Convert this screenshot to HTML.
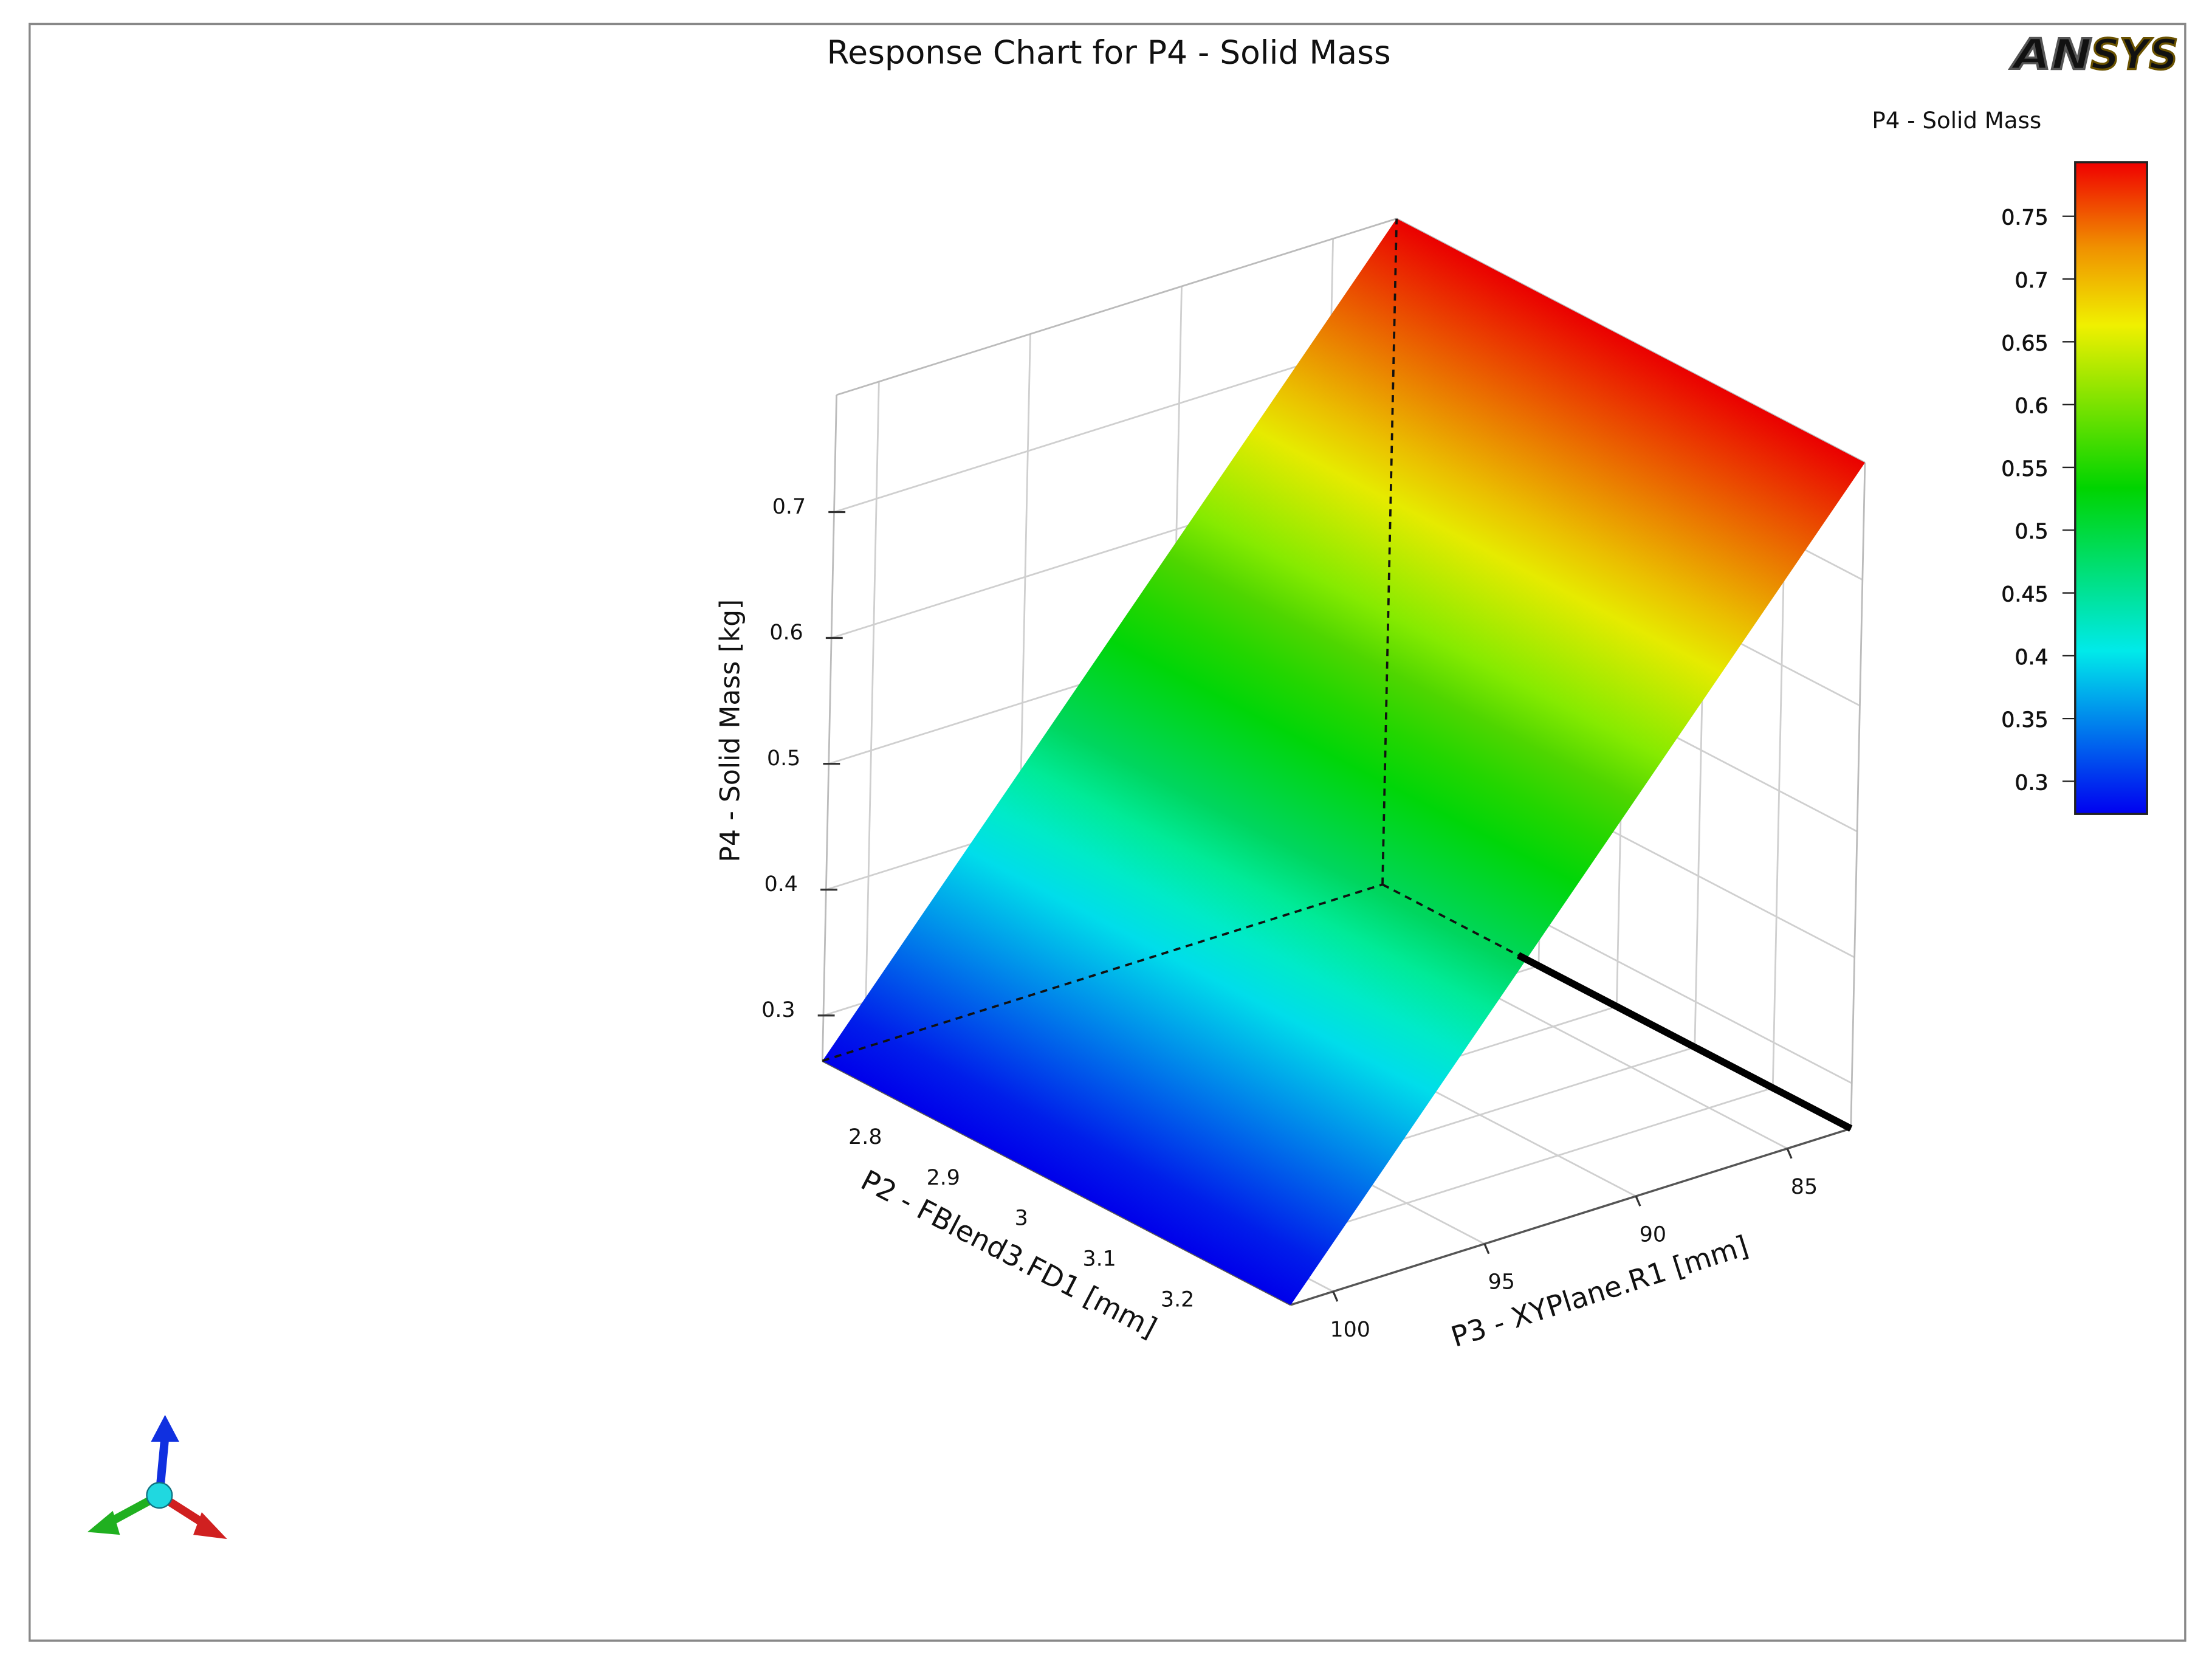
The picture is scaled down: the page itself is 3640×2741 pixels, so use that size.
<!DOCTYPE html>
<html><head><meta charset="utf-8">
<style>
html,body{margin:0;padding:0;background:#fff;}
svg{display:block;}
text{font-family:"DejaVu Sans","Liberation Sans",sans-serif;fill:#111;}
</style></head>
<body>
<svg id="chart" width="3640" height="2741" viewBox="0 0 1568 1181" preserveAspectRatio="none" xmlns="http://www.w3.org/2000/svg">
<rect x="0" y="0" width="1568" height="1181" fill="#fff"/>
<rect x="21" y="17" width="1528" height="1146" fill="none" stroke="#888" stroke-width="1.5"/>
<text x="786" y="45" font-size="23" text-anchor="middle">Response Chart for P4 - Solid Mass</text>
<g font-style="italic" font-weight="bold" font-size="30" font-family="Liberation Sans,sans-serif">
<text x="1427" y="49" fill="#fff" stroke="#555" stroke-width="1.5" font-family="Liberation Sans,sans-serif" textLength="56" lengthAdjust="spacingAndGlyphs">AN</text>
<text x="1482" y="49" fill="#f2c300" stroke="#6a5200" stroke-width="1.5" font-family="Liberation Sans,sans-serif" textLength="62" lengthAdjust="spacingAndGlyphs">SYS</text>
</g>
<text x="1387" y="91" font-size="16" text-anchor="middle">P4 - Solid Mass</text>
<defs>
<linearGradient id="cbgrad" x1="0" y1="1" x2="0" y2="0">
<stop offset="0" stop-color="#0000f0"/><stop offset="0.25" stop-color="#00eaea"/><stop offset="0.5" stop-color="#00d400"/><stop offset="0.75" stop-color="#f0f000"/><stop offset="0.87" stop-color="#f09000"/><stop offset="1" stop-color="#f00000"/>
</linearGradient>
</defs>
<rect x="1471" y="115" width="51" height="462" fill="url(#cbgrad)" stroke="#222" stroke-width="1.5"/>
<g id="cbticks"></g>
<g id="grid"></g>
<g id="surface"></g>
<g id="overlay"></g>
<g id="labels"></g>
<g>
<line x1="113" y1="1060" x2="117" y2="1018" stroke="#1030e0" stroke-width="6"/>
<polygon points="107,1022 127,1022 117,1003" fill="#1030e0"/>
<line x1="113" y1="1060" x2="76" y2="1080" stroke="#20b020" stroke-width="6"/>
<polygon points="80,1071 85,1088 62,1086" fill="#20b020"/>
<line x1="113" y1="1060" x2="146" y2="1081" stroke="#d02020" stroke-width="6"/>
<polygon points="143,1072 137,1088 161,1091" fill="#d02020"/>
<circle cx="113" cy="1060" r="9" fill="#20d8e0" stroke="#107080" stroke-width="1"/>
</g>
</svg>
<script>
// ---- data ----
const p2Range = [2.7, 3.3];
const p3Range = [101.4, 82.9];
const zRange = [0.264, 0.793];
const p2Ticks = [2.8, 2.9, 3, 3.1, 3.2];
const p3Ticks = [100, 95, 90, 85];
const zTicks = [0.3, 0.4, 0.5, 0.6, 0.7];
const cbTicks = [0.3, 0.35, 0.4, 0.45, 0.5, 0.55, 0.6, 0.65, 0.7, 0.75];
const cbRange = [0.274, 0.793];
const surfP3 = [101.4, 82.9];
const surfMass = [0.264, 0.793];

const NS = "http://www.w3.org/2000/svg";
function mk(tag, parent, attrs) {
  const e = document.createElementNS(NS, tag);
  for (const k in attrs) e.setAttribute(k, attrs[k]);
  parent.appendChild(e);
  return e;
}
const O = [583, 752], U = [332, 173], V = [397, -125], W = [10, -472];
function proj(p, q, z) { return [O[0] + p*U[0] + q*V[0] + z*W[0], O[1] + p*U[1] + q*V[1] + z*W[1]]; }
const pOf = v => (v - p2Range[0]) / (p2Range[1] - p2Range[0]);
const qOf = v => (v - p3Range[0]) / (p3Range[1] - p3Range[0]);
const zOf = v => (v - zRange[0]) / (zRange[1] - zRange[0]);
function colorOf(v) {
  let t = (v - cbRange[0]) / (cbRange[1] - cbRange[0]);
  t = Math.max(0, Math.min(1, t));
  const h = 240 * (1 - t);
  const l = (h > 90 && h < 150) ? 42 : 46;
  return "hsl(" + h + ",100%," + l + "%)";
}

const cbG = document.getElementById("cbticks");
const cbY = v => 577 - (v - cbRange[0]) / (cbRange[1] - cbRange[0]) * 462;
cbTicks.forEach(v => {
  const y = cbY(v);
  const t = mk("text", cbG, {x: 1452, y: y + 6, "font-size": 15, "text-anchor": "end", "stroke": "#111", "stroke-width": 0.3});
  
  
  t.textContent = String(v);
  const l = mk("line", cbG, {x1: 1462, y1: y, x2: 1471, y2: y, stroke: "#222", "stroke-width": 1});
  
  
});

const gG = document.getElementById("grid");
function gl(a, b, name, stroke, w) {
  const l = mk("line", gG, {x1: a[0], y1: a[1], x2: b[0], y2: b[1], stroke: stroke || "#cfcfcf", "stroke-width": w || 1.2});
  
  
}
p3Ticks.forEach(v => gl(proj(0, qOf(v), 0), proj(0, qOf(v), 1), 'left-wall-gridline'));
zTicks.forEach(v => gl(proj(0, 0, zOf(v)), proj(0, 1, zOf(v)), 'left-wall-gridline'));
p2Ticks.forEach(v => gl(proj(pOf(v), 1, 0), proj(pOf(v), 1, 1), 'right-wall-gridline'));
zTicks.forEach(v => gl(proj(0, 1, zOf(v)), proj(1, 1, zOf(v)), 'right-wall-gridline'));
p2Ticks.forEach(v => gl(proj(pOf(v), 0, 0), proj(pOf(v), 1, 0), 'floor-gridline'));
p3Ticks.forEach(v => gl(proj(0, qOf(v), 0), proj(1, qOf(v), 0), 'floor-gridline'));
gl(proj(0,0,0), proj(0,0,1), 'box-edge', '#bbb');
gl(proj(0,0,1), proj(0,1,1), 'box-edge', '#bbb');
gl(proj(0,1,1), proj(1,1,1), 'box-edge', '#bbb');
gl(proj(1,1,0), proj(1,1,1), 'box-edge', '#bbb');
gl(proj(0,0,0), proj(1,0,0), 'p2-axis-line', '#555', 1.5);
gl(proj(1,0,0), proj(1,1,0), 'p3-axis-line', '#555', 1.5);

const sG = document.getElementById("surface");
const defs = document.querySelector("defs");
const q0 = qOf(surfP3[0]), q1 = qOf(surfP3[1]);
const z0 = zOf(surfMass[0]), z1 = zOf(surfMass[1]);
const c = [proj(0, q0, z0), proj(1, q0, z0), proj(1, q1, z1), proj(0, q1, z1)];
const ux = U[0], uy = U[1], un = Math.hypot(ux, uy);
let nx = uy / un, ny = -ux / un;
const d = (c[3][0] - c[0][0]) * nx + (c[3][1] - c[0][1]) * ny;
const grad = mk("linearGradient", defs, {id: "surfgrad", gradientUnits: "userSpaceOnUse",
  x1: c[0][0], y1: c[0][1], x2: c[0][0] + nx * d, y2: c[0][1] + ny * d});
for (let i = 0; i <= 20; i++) {
  const t = i / 20;
  const v = surfMass[0] + t * (surfMass[1] - surfMass[0]);
  mk("stop", grad, {offset: t, "stop-color": colorOf(v)});
}
const poly = mk("polygon", sG, {points: c.map(p => p.join(",")).join(" "), fill: "url(#surfgrad)"});



const oG = document.getElementById("overlay");
function ol(a, b, name, attrs) {
  const l = mk("line", oG, Object.assign({x1: a[0], y1: a[1], x2: b[0], y2: b[1]}, attrs));
  
  
}
const dash = {stroke: "#111", "stroke-width": 1.6, "stroke-dasharray": "5,4"};
ol(proj(0,0,0), proj(0,1,0), 'dashed-edge', dash);
ol(proj(0,1,0), proj(0,1,1), 'dashed-edge', dash);
ol(proj(0,1,0), proj(0.29,1,0), 'dashed-edge', dash);
ol(proj(0.29,1,0), proj(1,1,0), 'response-curve-projection', {stroke: "#000", "stroke-width": 5});

const lG = document.getElementById("labels");
function txt(x, y, s, name, attrs) {
  const t = mk("text", lG, Object.assign({x: x, y: y}, attrs));
  
  
  t.textContent = s;
  return t;
}
zTicks.forEach(v => {
  const p = proj(0, 0, zOf(v));
  ol([p[0]-4, p[1]], [p[0]+8, p[1]], 'z-tick', {stroke: "#333", "stroke-width": 1.4});
  txt(p[0] - 20, p[1] + 1, String(v), 'z-tick-label', {"font-size": 15, "text-anchor": "end"});
});
p2Ticks.forEach(v => {
  const p = proj(pOf(v), 0, 0);
  txt(p[0] - 25, p[1] + 30, String(v), 'p2-tick-label', {"font-size": 15, "text-anchor": "middle"});
});
p3Ticks.forEach(v => {
  const p = proj(1, qOf(v), 0);
  ol(p, [p[0] + 3, p[1] + 7], 'p3-tick', {stroke: "#333", "stroke-width": 1.4});
  txt(p[0] + 12, p[1] + 32, String(v), 'p3-tick-label', {"font-size": 15, "text-anchor": "middle"});
});
txt(0, 0, "P4 - Solid Mass  [kg]", 'z-axis-title', {"font-size": 19, "text-anchor": "middle", transform: "translate(524,518) rotate(-90)"});
txt(0, 0, "P2 - FBlend3.FD1  [mm]", 'p2-axis-title', {"font-size": 20, "text-anchor": "middle", transform: "translate(712,895) rotate(27.5)"});
txt(0, 0, "P3 - XYPlane.R1  [mm]", 'p3-axis-title', {"font-size": 20, "text-anchor": "middle", transform: "translate(1136,922) rotate(-17.5)"});
</script>
</body></html>
